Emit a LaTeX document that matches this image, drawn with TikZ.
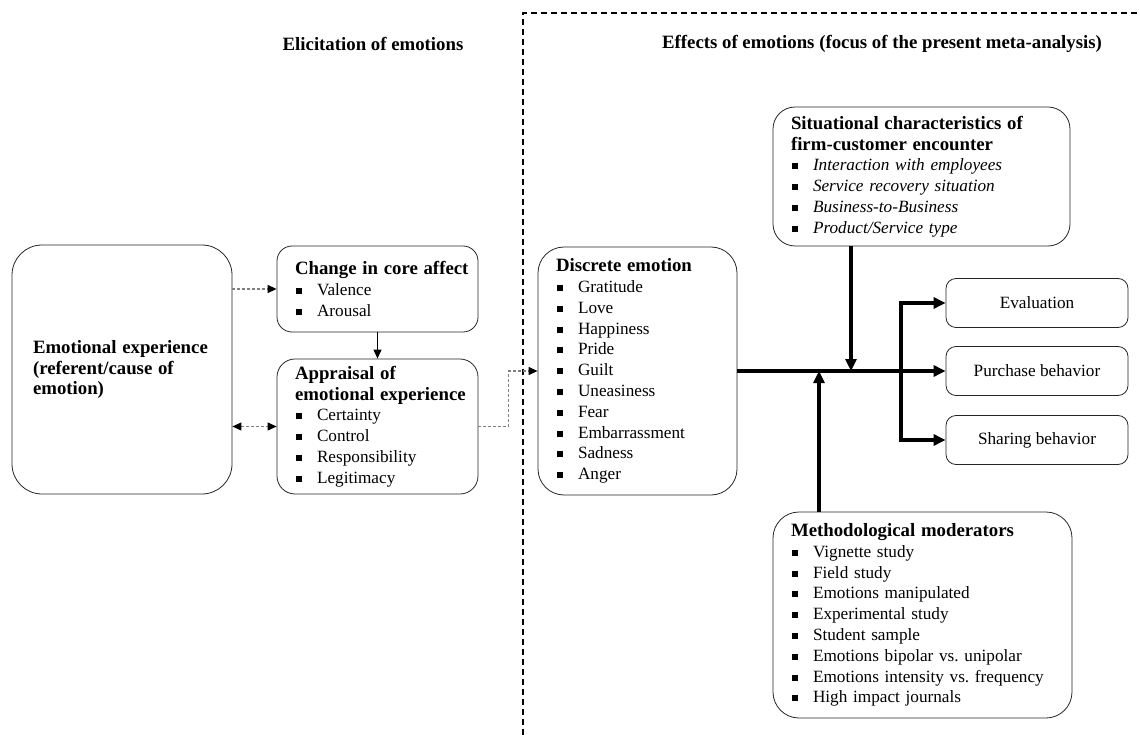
\documentclass[tikz,border=0pt]{standalone}
\usepackage{fontspec}
\setmainfont{Liberation Serif}
\usetikzlibrary{arrows.meta}
\frenchspacing
\newcommand\headfont{\fontsize{18.8}{20.8}\selectfont\bfseries}
\newcommand\itemfont{\fontsize{17.2}{20.8}\selectfont}
\newcommand\hd[1]{\mbox{\headfont #1}}
\newcommand\itm[1]{\mbox{\makebox[22pt][l]{\hspace{1pt}\rule[1.5pt]{6pt}{6pt}}#1}}
\tikzset{%
	>={Triangle[length=9pt,width=8pt,color=black]},
	block/.style  = {draw=black!85, line width=0.8pt, rounded corners=18pt, align=left,
		inner xsep=18pt, inner ysep=0pt, font=\itemfont}, % Box with list
	result/.style = {draw=black!85, line width=0.8pt, rounded corners=10pt,
		minimum width=182pt, minimum height=49pt, font=\itemfont}, % Outcome
	flow/.style   = {line width=3.2pt, >={Triangle[length=12pt,width=11pt]}}, % Main path
	link/.style   = {line width=0.9pt}, % Thin arrow
	cue/.style    = {draw=black!50, line width=1.1pt, dash pattern=on 3pt off 2pt}, % Grey dashed
	divider/.style = {line width=1.3pt, dash pattern=on 6pt off 4pt}
}
\begin{document}
\begin{tikzpicture}[x=1pt,y=-1pt]
	\useasboundingbox (0,0) rectangle (1140,735);

	\node[font=\headfont] (elic) at (373,44) {Elicitation of emotions};
	\node[font=\headfont] (eff) at (882,44) {Effects of emotions (focus of the present meta-analysis)};

	\node[block, rounded corners=30pt, inner xsep=21pt, text width=178pt, minimum height=249pt] (emo) at (122,369.5)
		{\hd{Emotional experience}\\\hd{(referent/cause of}\\\hd{emotion)}};
	\node[block, rounded corners=15pt, text width=165pt, minimum height=86pt] (core) at (377.5,289)
		{\hd{Change in core affect}\\\itm{Valence}\\\itm{Arousal}};
	\node[block, text width=165pt, minimum height=135pt] (appr) at (377.5,426.5)
		{\hd{Appraisal of}\\\hd{emotional experience}\\\itm{Certainty}\\\itm{Control}\\\itm{Responsibility}\\\itm{Legitimacy}};
	\node[block, rounded corners=26pt, text width=163pt, minimum height=248pt] (disc) at (637.5,371)
		{\hd{Discrete emotion}\\\itm{Gratitude}\\\itm{Love}\\\itm{Happiness}\\\itm{Pride}\\\itm{Guilt}\\
		\itm{Uneasiness}\\\itm{Fear}\\\itm{Embarrassment}\\\itm{Sadness}\\\itm{Anger}};
	\node[block, rounded corners=22pt, text width=261pt, minimum height=139pt] (sit) at (921.5,176.5)
		{\hd{Situational characteristics of}\\\hd{firm-customer encounter}\\\itm{\textit{Interaction with employees}}\\
		\itm{\textit{Service recovery situation}}\\\itm{\textit{Business-to-Business}}\\\itm{\textit{Product/Service type}}};
	\node[block, rounded corners=26pt, text width=263pt, minimum height=206pt] (meth) at (922.5,615)
		{\hd{Methodological moderators}\\\itm{Vignette study}\\\itm{Field study}\\\itm{Emotions manipulated}\\
		\itm{Experimental study}\\\itm{Student sample}\\\itm{Emotions bipolar vs. unipolar}\\
		\itm{Emotions intensity vs. frequency}\\\itm{High impact journals}};

	\node[result] (eval) at (1037,303) {Evaluation};
	\node[result] (purch) at (1037,371) {Purchase behavior};
	\node[result] (share) at (1037,440) {Sharing behavior};

	\coordinate (mod1) at (851,371);
	\coordinate (mod2) at (819,371);
	\coordinate (split) at (901,371);

	\draw[divider] (523,735) -- (523,13) -- (1140,13);

	\draw[cue,->] (emo.east |- core.west) -- (core.west);
	\draw[cue,<->] (emo.east |- appr.west) -- (appr.west);
	\draw[link,->] (core) -- (appr);
	\draw[cue,->] (appr.east) -- ++(30,0) |- (disc.west);

	\draw[flow,->] (disc) -- (purch);
	\draw[flow,->] (sit.south -| mod1) -- (mod1);
	\draw[flow,->] (meth.north -| mod2) -- (mod2);
	\draw[flow,->] (split) |- (eval);
	\draw[flow,->] (split) |- (share);
\end{tikzpicture}
\end{document}
